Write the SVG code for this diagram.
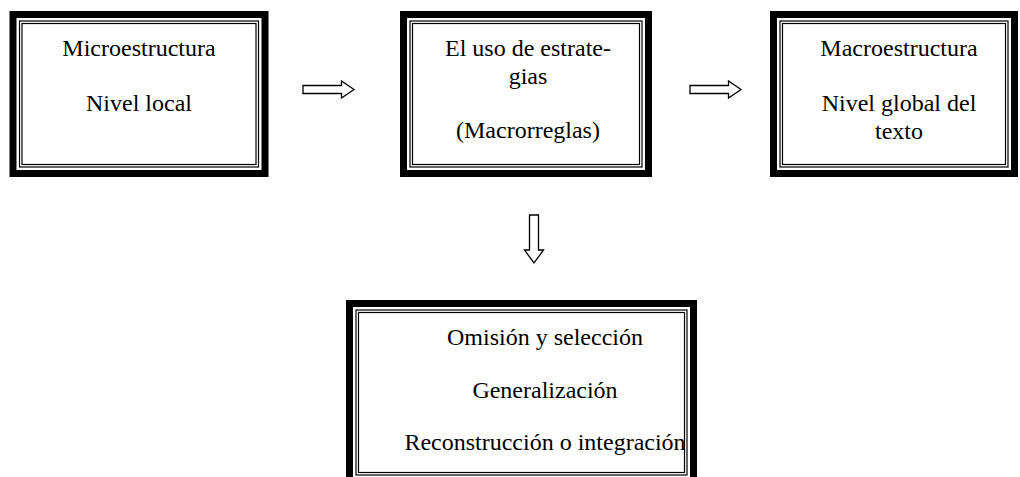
<svg xmlns="http://www.w3.org/2000/svg" width="1020" height="477" viewBox="0 0 1020 477">
<style>
.thick{fill:none;stroke:#000;stroke-width:7}
.thin{fill:none;stroke:#000;stroke-width:1.2}
text{font-family:'Liberation Serif','Times New Roman',Times,serif;font-size:24px;fill:#000;text-anchor:middle}
.arr{fill:#fff;stroke:#000;stroke-width:1.3;stroke-linejoin:miter}
</style>
<rect width="1020" height="477" fill="#fff"/>
<g id="node-micro">
<rect x="13" y="14.5" width="252" height="159" class="thick"/>
<rect x="19.5" y="21" width="239" height="146" class="thin"/>
<rect x="22" y="23.5" width="234" height="141" class="thin"/>
<text font-family="Liberation Serif, serif" x="139" y="56">Microestructura</text>
<text font-family="Liberation Serif, serif" x="139" y="111">Nivel local</text>
</g>
<g id="node-estrategias">
<rect x="403.5" y="14.5" width="245" height="159" class="thick"/>
<rect x="410" y="21" width="232" height="146" class="thin"/>
<rect x="412.5" y="23.5" width="227" height="141" class="thin"/>
<text font-family="Liberation Serif, serif" x="528" y="56">El uso de estrate-</text>
<text font-family="Liberation Serif, serif" x="528" y="84">gias</text>
<text font-family="Liberation Serif, serif" x="528" y="138">(Macrorreglas)</text>
</g>
<g id="node-macro">
<rect x="773.5" y="14.5" width="241" height="159" class="thick"/>
<rect x="780" y="21" width="228" height="146" class="thin"/>
<rect x="782.5" y="23.5" width="223" height="141" class="thin"/>
<text font-family="Liberation Serif, serif" x="899" y="56">Macroestructura</text>
<text font-family="Liberation Serif, serif" x="899" y="111">Nivel global del</text>
<text font-family="Liberation Serif, serif" x="899" y="139">texto</text>
</g>
<g id="node-macrorreglas">
<rect x="349.5" y="303.5" width="344" height="178" class="thick"/>
<rect x="356" y="310" width="331" height="165" class="thin"/>
<rect x="358.5" y="312.5" width="326" height="160" class="thin"/>
<text font-family="Liberation Serif, serif" x="545" y="345">Omisión y selección</text>
<text font-family="Liberation Serif, serif" x="545" y="398">Generalización</text>
<text font-family="Liberation Serif, serif" x="545" y="450">Reconstrucción o integración</text>
</g>
<g id="connectors">
<path class="arr" d="M303 85.5 H341.5 V81 L354 89.5 L341.5 98 V93.5 H303 Z"/>
<path class="arr" d="M690 85.5 H728.5 V81 L741 89.5 L728.5 98 V93.5 H690 Z"/>
<path class="arr" d="M529.5 215 V250 H524.5 L534 263 L543.5 250 H538.5 V215 Z"/>
</g>
</svg>
